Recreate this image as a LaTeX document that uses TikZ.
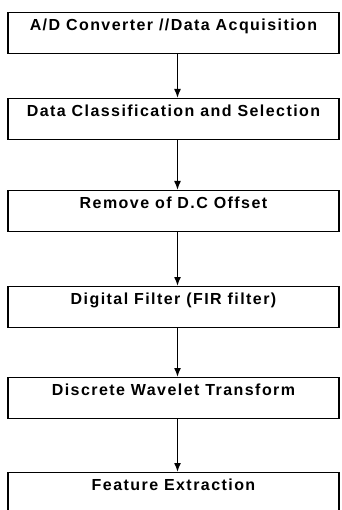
\documentclass[tikz,border=0pt]{standalone}
\usepackage{fontspec}
\setmainfont[LetterSpace=9]{Liberation Sans}
\usetikzlibrary{arrows.meta}

\tikzset{
  stage/.style={draw, line width=1.1pt, minimum width=331pt, inner ysep=0pt,
    text height=18pt, text depth=23pt, anchor=north, font=\fontsize{16}{18}\selectfont\bfseries},
  flow/.style={-{Latex[length=9pt,width=7pt]}, line width=1.5pt}
}

\begin{document}
\begin{tikzpicture}[x=1pt, y=-1pt]
  \clip (0,0) rectangle (341,510);

  \node[stage] (adc) at (173.5, 12) {A/D Converter //Data Acquisition};
  \node[stage] (sel) at (173.5, 98) {Data Classification and Selection};
  \node[stage] (dco) at (173.5, 190) {Remove of D.C Offset};
  \node[stage] (fir) at (173.5, 286) {Digital Filter (FIR filter)};
  \node[stage] (dwt) at (173.5, 377) {Discrete Wavelet Transform};
  \node[stage] (fex) at (173.5, 472) {Feature Extraction};

  % arrows between the stages
  \draw[flow] ([xshift=4pt]adc.south) -- ([xshift=4pt]sel.north);
  \draw[flow] ([xshift=4pt]sel.south) -- ([xshift=4pt]dco.north);
  \draw[flow] ([xshift=4pt]dco.south) -- ([xshift=4pt]fir.north);
  \draw[flow] ([xshift=4pt]fir.south) -- ([xshift=4pt]dwt.north);
  \draw[flow] ([xshift=4pt]dwt.south) -- ([xshift=4pt]fex.north);
\end{tikzpicture}
\end{document}
